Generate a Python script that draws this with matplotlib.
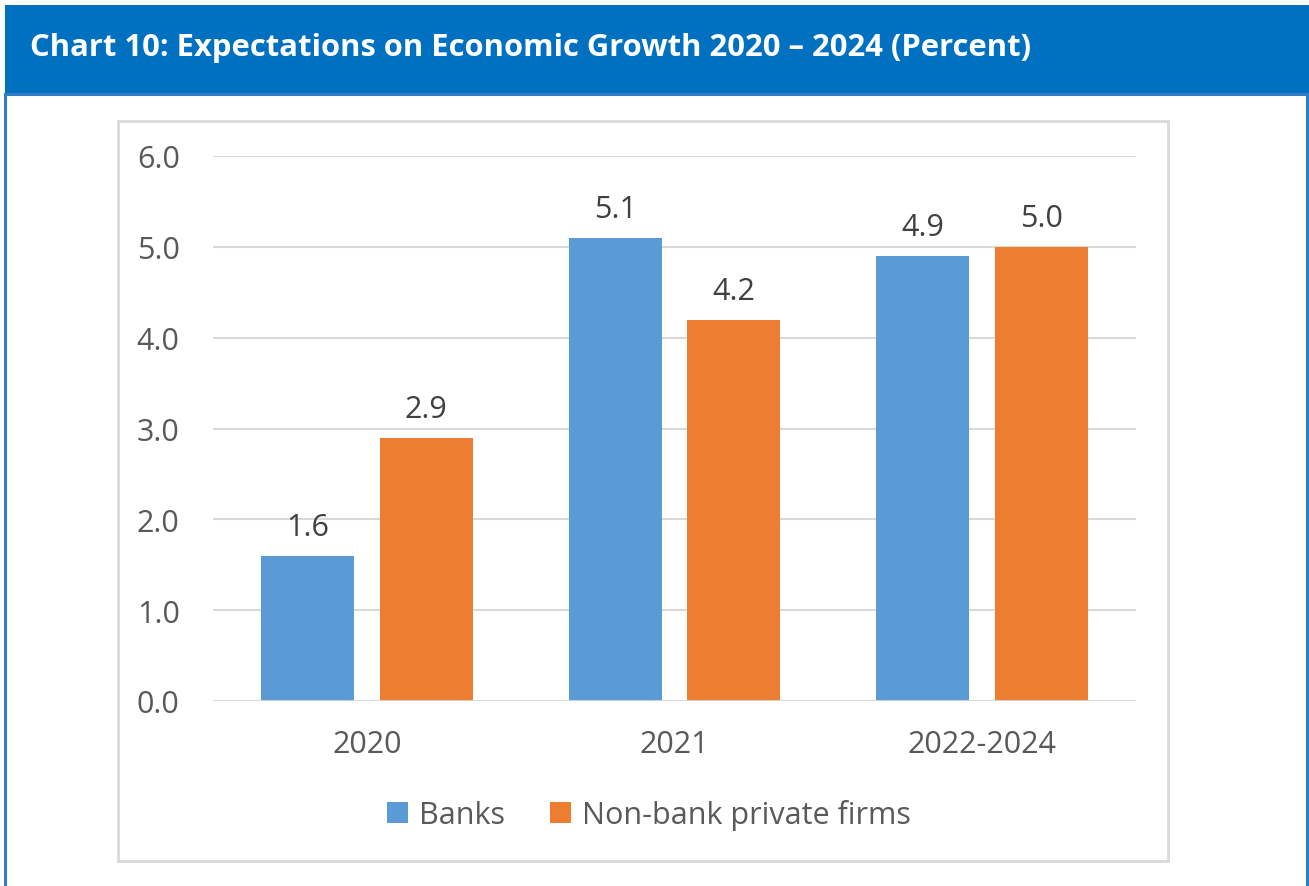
import matplotlib.pyplot as plt
from matplotlib.patches import Rectangle

# growth expectations, percent
periods = ['2020', '2021', '2022-2024']
banks = [1.6, 5.1, 4.9]
nonbank = [2.9, 4.2, 5.0]
series_names = ['Banks', 'Non-bank private firms']
colors = ['#5B9BD5', '#ED7D31']
title = 'Chart 10: Expectations on Economic Growth 2020 \u2013 2024 (Percent)'

W, H = 1309, 887
fig = plt.figure(figsize=(W / 100, H / 100), dpi=100)
plt.rcParams['font.family'] = ['Open Sans', 'DejaVu Sans']


def px(x0, y0, x1, y1):
    # pixel box (top-left origin) -> figure fraction rect
    return (x0 / W, 1 - y1 / H, (x1 - x0) / W, (y1 - y0) / H)


# blue title banner
bx, by, bw, bh = px(5, 6, 1309, 94)
fig.patches.append(Rectangle((bx, by), bw, bh, transform=fig.transFigure,
                             facecolor='#0070C0', edgecolor='none'))
fig.text(30 / W, 1 - 48 / H, title, color='white', fontsize=22.3,
         fontweight='bold', va='center', ha='left')

# outer box under banner
ox, oy, ow, oh = px(5, 95, 1307, 900)
fig.patches.append(Rectangle((ox, oy), ow, oh, transform=fig.transFigure,
                             facecolor='none', edgecolor='#2E7DC6', lw=2.2))

# grey chart frame
gx, gy, gw, gh = px(118, 122, 1168, 862)
fig.patches.append(Rectangle((gx, gy), gw, gh, transform=fig.transFigure,
                             facecolor='none', edgecolor='#D9D9D9', lw=2))

ax = fig.add_axes(px(213, 157, 1136, 702))
x = range(len(periods))
w = 0.302
off = 0.193
b1 = ax.bar([i - off for i in x], banks, w, color=colors[0], label=series_names[0], zorder=3)
b2 = ax.bar([i + off for i in x], nonbank, w, color=colors[1], label=series_names[1], zorder=3)
for bars in (b1, b2):
    ax.bar_label(bars, labels=[f'{v:.1f}' for v in bars.datavalues], padding=10,
                 fontsize=22, color='#404040')

ax.set_xlim(-0.5, 2.5)
ax.set_ylim(0, 6)
ax.set_yticks([0, 1, 2, 3, 4, 5, 6])
ax.set_yticklabels([f'{v:.1f}' for v in range(7)])
ax.set_xticks(list(x))
ax.set_xticklabels(periods)
ax.tick_params(length=0, labelsize=22, labelcolor='#595959')
ax.tick_params(axis='y', pad=24)
ax.tick_params(axis='x', pad=20)
ax.grid(axis='y', color='#D9D9D9', lw=1.5, zorder=0)
for s in ax.spines.values():
    s.set_visible(False)
ax.axhline(0, color='#D9D9D9', lw=2, zorder=4)

ax.legend(loc='center', bbox_to_anchor=(649 / W, 1 - 816 / H), bbox_transform=fig.transFigure,
          ncol=2, frameon=False, fontsize=22, labelcolor='#595959',
          handlelength=0.68, handleheight=0.68, handletextpad=0.35, columnspacing=1.5)

fig.savefig('out.png', dpi=100)
